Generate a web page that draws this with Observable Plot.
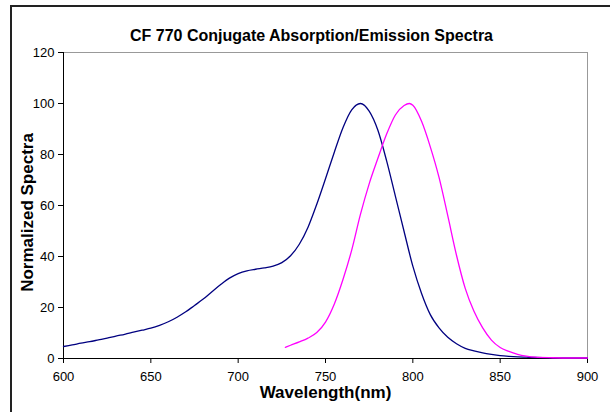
<!DOCTYPE html>
<html>
<head>
<meta charset="utf-8">
<script src="https://cdn.jsdelivr.net/npm/d3@7"></script>
<script src="https://cdn.jsdelivr.net/npm/@observablehq/plot@0.6"></script>
<style>
  html, body { margin: 0; padding: 0; background: #fff; }
  #chart svg { display: block; }
</style>
</head>
<body>
<div id="chart"></div>
<script>
const title = "CF 770 Conjugate Absorption/Emission Spectra";
const xLabel = "Wavelength(nm)";
const yLabel = "Normalized Spectra";
const xTicks = [600, 650, 700, 750, 800, 850, 900];
const yTicks = [0, 20, 40, 60, 80, 100, 120];

const absWavelength = [600,605,610,615,620,625,630,635,640,645,650,655,660,665,670,675,680,685,690,695,700,705,710,715,720,725,730,735,740,745,750,755,760,765,770,775,780,785,790,795,800,805,810,815,820,825,830,835,840,845,850,855,860,865,870,880,890,900];
const absValue = [4.7,5.3,6.0,6.6,7.3,8.0,8.8,9.5,10.3,11.1,11.9,13.0,14.4,16.2,18.3,20.8,23.3,26.2,29.0,31.5,33.3,34.4,35.0,35.5,36.2,37.6,40.3,44.8,51.5,60.5,70.5,80.8,90.5,97.5,100,97.0,89.5,77.5,63.7,49.8,36.2,25.5,17.2,12.0,8.3,5.8,4.0,3.0,2.2,1.6,1.1,0.8,0.6,0.5,0.4,0.3,0.2,0.2];

const emWavelength = [727,730,735,740,745,750,755,760,765,770,775,780,785,790,795,798,800,805,810,815,820,825,830,835,840,845,850,855,860,865,870,880,890,900];
const emValue = [4.4,5.2,6.5,8.0,10.2,14.3,21.3,31.0,42.5,56.5,68.5,78.5,88.0,95.5,99.2,100,99.3,93.0,83.0,71.0,56.0,40.5,27.5,18.5,12.0,7.2,4.3,2.8,1.6,0.9,0.5,0.3,0.2,0.2];

const absorption = absWavelength.map((w, i) => ({w, v: absValue[i]}));
const emission = emWavelength.map((w, i) => ({w, v: emValue[i]}));

const font = "Arial, 'Liberation Sans', sans-serif";

const chart = Plot.plot({
  width: 610,
  height: 412,
  marginLeft: 63,
  marginRight: 23,
  marginTop: 52,
  marginBottom: 54,
  style: {fontFamily: font, fontSize: "12px", color: "#000", background: "#fff"},
  x: {domain: [600, 900], ticks: xTicks, label: null},
  y: {domain: [0, 120], ticks: yTicks, label: null},
  marks: [
    Plot.ruleY([120], {stroke: "#999", strokeWidth: 1}),
    Plot.ruleX([900], {stroke: "#999", strokeWidth: 1}),
    Plot.axisX({ticks: xTicks, tickSize: 5, tickPadding: 8, fontSize: 13, stroke: "#000", strokeOpacity: 1}),
    Plot.axisY({ticks: yTicks, tickSize: 5, tickPadding: 4, fontSize: 13, stroke: "#000", strokeOpacity: 1}),
    Plot.ruleX([600], {stroke: "#000"}),
    Plot.ruleY([0], {stroke: "#000"}),
    Plot.line(absorption, {x: "w", y: "v", stroke: "#000080", strokeWidth: 1.3, curve: "monotone-x"}),
    Plot.line(emission, {x: "w", y: "v", stroke: "#FF00FF", strokeWidth: 1.3, curve: "monotone-x"}),
    Plot.text([title], {frameAnchor: "top", dx: -14, dy: -23, fontSize: 16, fontWeight: "bold", fill: "#000"}),
    Plot.text([xLabel], {frameAnchor: "bottom", dy: 39, fontSize: 17, fontWeight: "bold", fill: "#000"}),
    Plot.text([yLabel], {frameAnchor: "left", textAnchor: "middle", dx: -36, dy: 7, rotate: -90, fontSize: 17, fontWeight: "bold", fill: "#000"})
  ]
});

d3.select(chart).append("rect")
  .attr("x", 11).attr("y", 6)
  .attr("width", 700).attr("height", 500)
  .attr("fill", "none").attr("stroke", "#222").attr("stroke-width", 2);

document.getElementById("chart").appendChild(chart);
</script>
</body>
</html>
